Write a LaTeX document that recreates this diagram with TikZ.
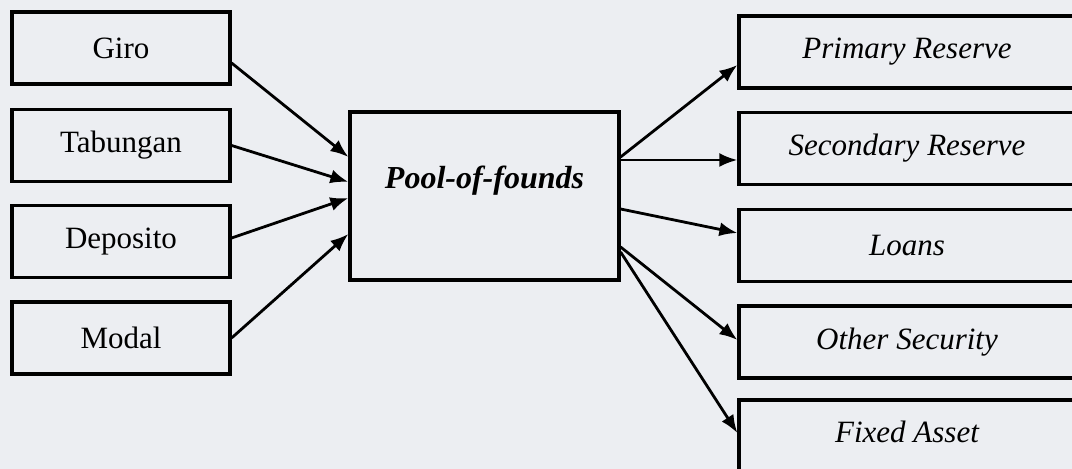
\documentclass[tikz,border=0pt]{standalone}
\usepackage{fontspec}
\setmainfont{Liberation Serif}
\usetikzlibrary{arrows.meta}
\definecolor{bg}{RGB}{236,238,242}
\begin{document}
\begin{tikzpicture}[x=0.5pt,y=-0.5pt,
  box/.style={draw=black,line width=1.6pt,fill=bg,inner sep=0pt,minimum height=36pt,font=\fontsize{15.5}{18}\selectfont},
  lbox/.style={box,minimum width=109pt},
  rbox/.style={box,minimum width=168pt,font=\fontsize{15.5}{18}\selectfont\itshape},
  arr/.style={line width=1.4pt,-{Latex[length=9pt,width=7pt]}}]
\path[fill=bg] (0,0) rectangle (1072,469);
\useasboundingbox (0,0) rectangle (1072,469);
\clip (0,0) rectangle (1072,469);
\node[lbox] (giro) at (121,48) {Giro};
\node[lbox] (tab) at (121,145.5) {Tabungan};
\node[lbox] (dep) at (121,241.5) {Deposito};
\node[lbox] (mod) at (121,338) {Modal};
\node[box,minimum width=134.5pt,minimum height=84pt] (pool) at (484.5,196) {};
\node[font=\fontsize{16}{19}\selectfont\bfseries\itshape] (pooltxt) at (484.5,181) {Pool-of-founds};
\node[rbox] (pri) at (907,52) {Primary Reserve};
\node[rbox] (sec) at (907,148.5) {Secondary Reserve};
\node[rbox] (loan) at (907,245.5) {Loans};
\node[rbox] (oth) at (907,342) {Other Security};
\node[rbox,text height=11pt] (fix) at (907,436) {\raisebox{2pt}{Fixed Asset}};
\draw[arr] ([yshift=-7.5pt]giro.east) -- ([yshift=19.5pt]pool.west);
\draw[arr] (tab.east) -- ([yshift=7pt]pool.west);
\draw[arr] ([yshift=1.75pt]dep.east) -- ([yshift=-1pt]pool.west);
\draw[arr] (mod.east) -- ([yshift=-19pt]pool.west);
\draw[arr] ([yshift=19.5pt]pool.east) -- ([yshift=-6.5pt]pri.west);
\draw[arr] ([yshift=18pt]pool.east) -- ([yshift=-5.75pt]sec.west);
\draw[arr] ([yshift=-6.5pt]pool.east) -- ([yshift=6.25pt]loan.west);
\draw[arr] ([yshift=-25.5pt]pool.east) -- ([yshift=1pt]oth.west);
\draw[arr] ([yshift=-28pt]pool.east) -- ([yshift=1.5pt]fix.west);
\end{tikzpicture}
\end{document}
